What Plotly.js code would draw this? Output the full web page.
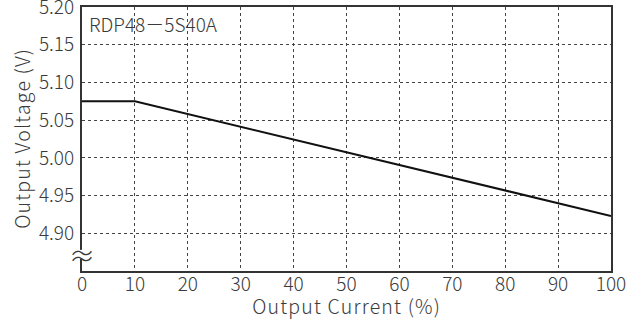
<!DOCTYPE html>
<html>
<head>
<meta charset="utf-8">
<script src="https://cdn.plot.ly/plotly-3.0.1.min.js"></script>
<style>
html,body{margin:0;padding:0;background:#fff;}
#chart{width:631px;height:319px;}
.ax-title .annotation-text{letter-spacing:1.2px;}
</style>
</head>
<body>
<div id="chart"></div>
<script>
const currentPct = [0, 10, 100];
const outputVoltage = [5.075, 5.075, 4.923];
const xTicks = [0, 10, 20, 30, 40, 50, 60, 70, 80, 90, 100];
const yTicks = [4.90, 4.95, 5.00, 5.05, 5.10, 5.15, 5.20];
const yTickLabels = ["4.90", "4.95", "5.00", "5.05", "5.10", "5.15", "5.20"];
const modelLabel = "RDP48－5S40A";
const xTitle = "Output Current (%)";
const yTitle = "Output Voltage (V)";

const font = "'Noto Sans CJK JP', 'Noto Sans', sans-serif";
const tcol = "#3a3a3a";

Plotly.newPlot("chart", [{
  x: currentPct,
  y: outputVoltage,
  mode: "lines",
  line: {color: "#111", width: 2},
  hoverinfo: "skip"
}], {
  width: 631, height: 319,
  margin: {l: 82, r: 20, t: 7, b: 48},
  paper_bgcolor: "#fff", plot_bgcolor: "#fff",
  showlegend: false,
  font: {family: font, color: tcol, size: 15, weight: 300},
  xaxis: {
    range: [0, 100], tickvals: xTicks, ticks: "", ticklen: 0,
    showgrid: true, gridcolor: "#444", griddash: "3px,3px", gridwidth: 1,
    showline: true, linecolor: "#333", linewidth: 2, mirror: true,
    zeroline: false, tickfont: {size: 19, color: tcol, weight: 300},
    ticklabeloverflow: "allow", ticklabelstandoff: -5
  },
  yaxis: {
    range: [4.85, 5.2], tickvals: yTicks, ticktext: yTickLabels, ticks: "",
    showgrid: true, gridcolor: "#444", griddash: "3px,3px", gridwidth: 1,
    showline: true, linecolor: "#333", linewidth: 2, mirror: true,
    zeroline: false, tickfont: {size: 19, color: tcol, weight: 300},
    ticklabeloverflow: "allow", ticklabelstandoff: 2
  },
  shapes: [
    {type: "line", xref: "paper", yref: "y", x0: 0, x1: 0, y0: 4.866, y1: 4.878,
     line: {color: "#fff", width: 4}, layer: "above"}
  ],
  annotations: [
    {xref: "paper", yref: "paper", x: 0, y: 0, xanchor: "center", yanchor: "middle",
     xshift: 264, yshift: -34, text: xTitle, showarrow: false,
     font: {size: 19.5, color: tcol, family: font, weight: 300}},
    {xref: "paper", yref: "paper", x: 0, y: 0.5, xanchor: "center", yanchor: "middle",
     xshift: -61, textangle: -90, text: yTitle, showarrow: false,
     font: {size: 19.5, color: tcol, family: font, weight: 300}},
    {xref: "paper", yref: "paper", x: 0, y: 1, xanchor: "left", yanchor: "middle",
     xshift: 5, yshift: -16, text: modelLabel, showarrow: false,
     font: {size: 19, color: tcol, family: font, weight: 300}},
    {xref: "paper", yref: "y", x: 0, y: 4.872, xanchor: "center", yanchor: "middle",
     text: "≈", showarrow: false,
     font: {size: 26, color: tcol, family: font}}
  ]
}, {staticPlot: true}).then(function () {
  const anns = document.querySelectorAll('.annotation');
  if (anns[0]) anns[0].classList.add('ax-title');
  if (anns[1]) anns[1].classList.add('ax-title');
});
</script>
</body>
</html>
